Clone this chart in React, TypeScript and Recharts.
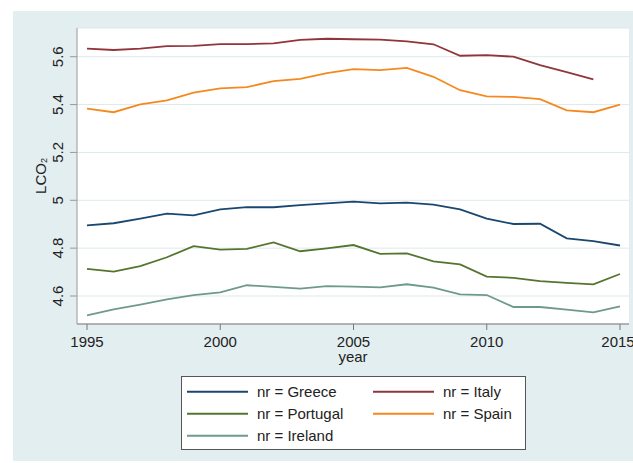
import { CartesianGrid, Line, LineChart, XAxis, YAxis } from "recharts"

const years = [1995, 1996, 1997, 1998, 1999, 2000, 2001, 2002, 2003, 2004, 2005, 2006, 2007, 2008, 2009, 2010, 2011, 2012, 2013, 2014, 2015]

const greece = [4.895, 4.904, 4.923, 4.944, 4.937, 4.962, 4.971, 4.971, 4.98, 4.987, 4.994, 4.987, 4.99, 4.982, 4.962, 4.923, 4.901, 4.902, 4.841, 4.829, 4.811]
const italy = [5.634, 5.628, 5.634, 5.644, 5.645, 5.653, 5.653, 5.656, 5.67, 5.675, 5.673, 5.671, 5.664, 5.652, 5.604, 5.607, 5.6, 5.565, 5.536, 5.505, null]
const portugal = [4.713, 4.702, 4.725, 4.762, 4.808, 4.794, 4.797, 4.824, 4.787, 4.799, 4.813, 4.776, 4.778, 4.745, 4.732, 4.681, 4.676, 4.662, 4.655, 4.649, 4.692]
const spain = [5.383, 5.368, 5.401, 5.418, 5.45, 5.468, 5.473, 5.498, 5.507, 5.531, 5.548, 5.544, 5.553, 5.516, 5.46, 5.434, 5.432, 5.423, 5.376, 5.368, 5.4]
const ireland = [4.519, 4.544, 4.564, 4.586, 4.604, 4.615, 4.645, 4.638, 4.631, 4.641, 4.639, 4.636, 4.649, 4.635, 4.607, 4.604, 4.554, 4.554, 4.543, 4.532, 4.557]

const xTicks = [1995, 2000, 2005, 2010, 2015]
const yTicks = [4.6, 4.8, 5, 5.2, 5.4, 5.6]

const series = [
  { key: "greece", name: "nr = Greece", values: greece, color: "#1a476f" },
  { key: "italy", name: "nr = Italy", values: italy, color: "#90353b" },
  { key: "portugal", name: "nr = Portugal", values: portugal, color: "#55752f" },
  { key: "spain", name: "nr = Spain", values: spain, color: "#f5891f" },
  { key: "ireland", name: "nr = Ireland", values: ireland, color: "#6e9a8c" },
]

const data = years.map((year, i) => {
  const row: Record<string, number | null> = { year }
  series.forEach((s) => {
    row[s.key] = s.values[i]
  })
  return row
})

const font = "'Liberation Sans', Arial, sans-serif"

function YTick({ x, y, payload }: any) {
  const v = payload.value
  const label = Number.isInteger(v) ? String(v) : v.toFixed(1)
  return (
    <text x={x} y={y} transform={`rotate(-90, ${x}, ${y})`} textAnchor="middle" fontSize={15} fill="#222" fontFamily={font}>
      {label}
    </text>
  )
}

// y title with a subscript 2
function YTitle({ viewBox }: any) {
  const cx = 46
  const cy = viewBox.y + viewBox.height / 2
  return (
    <text x={cx} y={cy} transform={`rotate(-90, ${cx}, ${cy})`} textAnchor="middle" fontSize={15} fill="#222" fontFamily={font}>
      LCO
      <tspan fontSize={9} dy={1}>2</tspan>
    </text>
  )
}

function XTitle({ viewBox }: any) {
  return (
    <text x={viewBox.x + viewBox.width / 2} y={362} textAnchor="middle" fontSize={15} fill="#222" fontFamily={font}>
      year
    </text>
  )
}

function LegendBox() {
  return (
    <div
      style={{
        position: "absolute",
        left: 181,
        top: 376,
        width: 345,
        height: 74,
        boxSizing: "border-box",
        border: "1px solid #555",
        background: "#fff",
      }}
    >
      <svg width={343} height={72} style={{ display: "block" }}>
        {series.map((s, i) => {
          const col = i % 2
          const row = Math.floor(i / 2)
          const x0 = col === 0 ? 5 : 191
          const y = 14.7 + row * 22
          return (
            <g key={s.key}>
              <line x1={x0} x2={x0 + 61} y1={y} y2={y} stroke={s.color} strokeWidth={2} />
              <text x={x0 + 70} y={y + 5.5} fontSize={15} fill="#222" fontFamily={font}>
                {s.name}
              </text>
            </g>
          )
        })}
      </svg>
    </div>
  )
}

export default function App() {
  return (
    <div style={{ position: "absolute", left: 0, top: 0, width: 633, height: 463, background: "#fff" }}>
      <div style={{ position: "absolute", left: 13, top: 11, width: 620, height: 450, background: "#e3eef0" }} />
      <div style={{ position: "absolute", left: 0, top: 0 }}>
        <LineChart width={633} height={463} data={data} margin={{ top: 28, right: 4, left: 0, bottom: 89 }}>
          <CartesianGrid vertical={false} fill="#fff" fillOpacity={1} stroke="#dde9ed" strokeWidth={1} />
          <XAxis
            dataKey="year"
            type="number"
            domain={[1995, 2015]}
            ticks={xTicks}
            padding={{ left: 10, right: 9 }}
            height={50}
            tickSize={6}
            tickMargin={6}
            stroke="#777"
            tick={{ fontSize: 15, fill: "#222", fontFamily: font }}
            label={{ content: XTitle }}
          />
          <YAxis
            type="number"
            domain={[4.483, 5.72]}
            ticks={yTicks}
            allowDataOverflow
            width={77}
            tickSize={7}
            tickMargin={7}
            stroke="#999"
            tick={YTick}
            label={{ content: YTitle }}
          />
          {series.map((s) => (
            <Line
              key={s.key}
              dataKey={s.key}
              name={s.name}
              stroke={s.color}
              strokeWidth={1.8}
              dot={false}
              activeDot={false}
              isAnimationActive={false}
              type="linear"
            />
          ))}
        </LineChart>
      </div>
      <LegendBox />
    </div>
  )
}
